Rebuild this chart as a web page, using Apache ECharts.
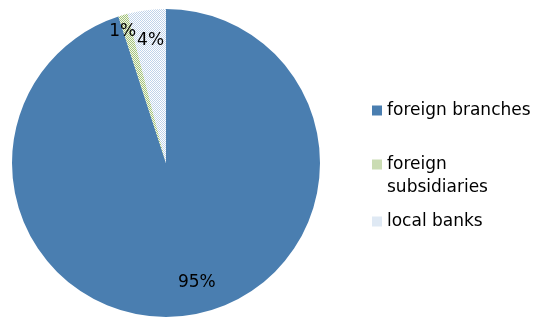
<!DOCTYPE html>
<html lang="en">
<head>
    <meta charset="UTF-8">
    <title>Banks share</title>
    <script src="https://cdn.jsdelivr.net/npm/echarts@6/dist/echarts.min.js"></script>
    <style>
        html, body { margin: 0; padding: 0; background: #fff; }
        #main { width: 536px; height: 318px; }
    </style>
</head>
<body>
<div id="main"></div>
<script type="text/javascript">
    // data
    var categories = ['foreign branches', 'foreign subsidiaries', 'local banks'];
    var shares = [95, 1, 4];
    var labelRadius = [0.8, 0.9, 0.8];   // where each % sits, as part of the radius
    var labelShift = [-5.5, -2, 0];      // small angle nudge (degrees) like the original

    var CX = 166, CY = 163, R = 154;

    // fine checker fill like the original hatching
    function checker(fg, bg) {
        var c = document.createElement('canvas');
        c.width = 2; c.height = 2;
        var ctx = c.getContext('2d');
        ctx.fillStyle = bg;
        ctx.fillRect(0, 0, 2, 2);
        ctx.fillStyle = fg;
        ctx.fillRect(0, 0, 1, 1);
        ctx.fillRect(1, 1, 1, 1);
        return { image: c, repeat: 'repeat' };
    }
    var colors = ['#4a7eb0', checker('#a3c27a', '#f2f7ec'), checker('#c0d3ea', '#ffffff')];

    var total = shares.reduce(function (a, b) { return a + b; }, 0);
    function midAngle(i) {
        var before = 0;
        for (var k = 0; k < i; k++) before += shares[k];
        return (before + shares[i] / 2) / total * 2 * Math.PI + labelShift[i] * Math.PI / 180;
    }

    var seriesData = categories.map(function (name, i) {
        return { name: name, value: shares[i], itemStyle: { color: colors[i] } };
    });

    var font = 'DejaVu Sans';
    function legendFor(i, top, fmt) {
        var lg = {
            left: 372,
            top: top,
            padding: 0,
            orient: 'vertical',
            data: [categories[i]],
            icon: 'rect',
            itemWidth: 10,
            itemHeight: 10,
            selectedMode: false,
            textStyle: { fontFamily: font, fontSize: 17, color: '#000', lineHeight: 23 }
        };
        if (fmt) lg.formatter = fmt;
        return lg;
    }

    var myChart = echarts.init(document.getElementById('main'));
    myChart.setOption({
        backgroundColor: '#fff',
        animation: false,
        legend: [
            legendFor(0, 99),
            // blank first line so the icon lines up with "foreign"
            legendFor(1, 130, function () { return ' \nforeign\nsubsidiaries'; }),
            legendFor(2, 210)
        ],
        series: [{
            type: 'pie',
            center: [CX, CY],
            radius: [0, R],
            startAngle: 90,
            clockwise: true,
            data: seriesData,
            itemStyle: { borderWidth: 0 },
            label: {
                show: true,
                position: 'inside',
                fontFamily: font,
                fontSize: 17,
                color: '#000',
                formatter: function (p) { return Math.round(p.percent) + '%'; }
            },
            labelLine: { show: false },
            labelLayout: function (p) {
                var a = midAngle(p.dataIndex);
                var r = R * labelRadius[p.dataIndex];
                return {
                    x: CX + r * Math.sin(a),
                    y: CY - r * Math.cos(a),
                    align: 'center',
                    verticalAlign: 'middle'
                };
            },
            emphasis: { disabled: true }
        }]
    });
</script>
</body>
</html>
